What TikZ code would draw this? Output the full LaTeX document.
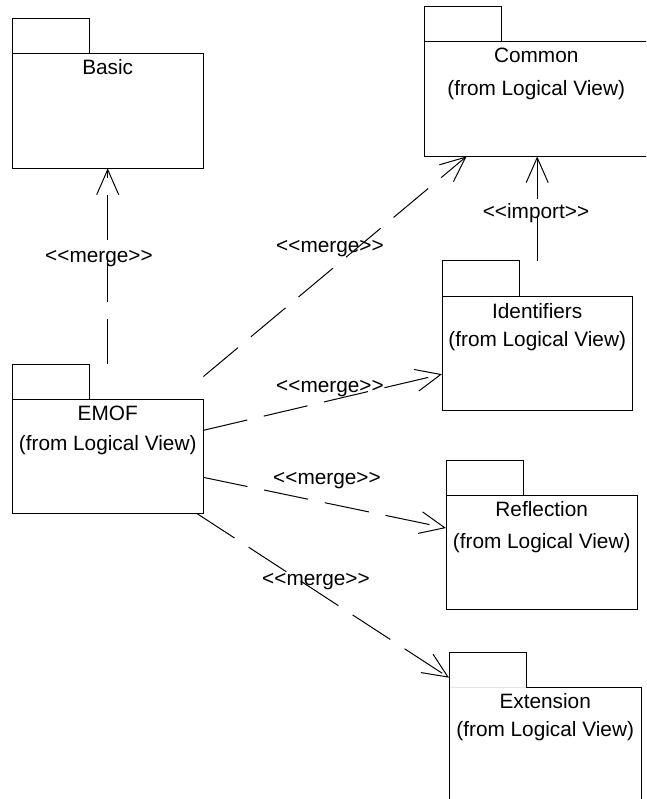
\documentclass[tikz,border=0pt]{standalone}
\usepackage{fontspec}
\usepackage{tikz}
\usetikzlibrary{arrows.meta}
\newfontfamily\rosefont{Liberation Sans}
\newcommand{\stereo}[1]{<\kern0pt<#1>\kern0pt>}

\begin{document}
\begin{tikzpicture}[x=1pt,y=-1pt,
  pkg/.style={draw=none,inner sep=0pt,minimum width=191pt,minimum height=149pt,anchor=north west},
  pkgline/.style={draw=black,line width=1pt},
  pkgtext/.style={font=\rosefont\fontsize{20.8}{24}\selectfont,inner sep=0pt,text height=14pt,text depth=4pt},
  dep/.style={draw=black,line width=1pt,dash pattern=on 45pt off 17pt,-{Straight Barb[length=25pt,width=22pt]}}]
\def\tabw{77}
\def\tabh{35}

\useasboundingbox (0,0) rectangle (646,799);
\clip (0,0) rectangle (646,799);

% packages (bounding box of tab + body)
\node[pkg] (basic) at (12,19) {};
\node[pkg,minimum width=224pt] (common) at (424,7) {};
\node[pkg,minimum width=190pt] (identifiers) at (442,261) {};
\node[pkg] (emof) at (12,364) {};
\node[pkg] (reflection) at (446,460) {};
\node[pkg,minimum width=192pt] (extension) at (449,652) {};

\foreach \p in {basic,common,identifiers,emof,reflection,extension}{
  \draw[pkgline] (\p.north west) rectangle ++(\tabw,\tabh);
  \draw[pkgline] (\p.north west) ++(0,\tabh) rectangle (\p.south east);
}
\draw[gray!20,line width=1pt] (extension.north west) ++(1,\tabh) -- ++(\tabw-1,0); %faint line under tab%

% package texts
\node[pkgtext] (basicname) at ([yshift=-51pt]basic.north) {Basic};
\node[pkgtext] (commonname) at ([yshift=-51pt]common.north) {Common};
\node[pkgtext] (commonview) at ([yshift=-84pt]common.north) {(from Logical View)};
\node[pkgtext] (identifiersname) at ([yshift=-52pt]identifiers.north) {Identifiers};
\node[pkgtext] (identifiersview) at ([yshift=-80pt]identifiers.north) {(from Logical View)};
\node[pkgtext] (emofname) at ([yshift=-51pt]emof.north) {EMOF};
\node[pkgtext] (emofview) at ([yshift=-81pt]emof.north) {(from Logical View)};
\node[pkgtext] (reflectionname) at ([yshift=-51pt]reflection.north) {Reflection};
\node[pkgtext] (reflectionview) at ([yshift=-83pt]reflection.north) {(from Logical View)};
\node[pkgtext] (extensionname) at ([yshift=-51pt]extension.north) {Extension};
\node[pkgtext] (extensionview) at ([yshift=-79pt]extension.north) {(from Logical View)};

% dependencies
\draw[dep] (emof.north) -- (basic.south);
\draw[dep] (emof.33.6) -- (common.227.2);
\draw[dep] (emof.5.1) -- (identifiers.202.6);
\draw[dep] (emof.-22) -- (reflection.176.7);
\draw[dep] (emof.-40.1) -- (extension.153.7);
\draw[dep] (identifiers.north) -- (identifiers.north |- common.south);

% stereotypes
\node[pkgtext] (mergebasic) at (99,257) {\stereo{merge}};
\node[pkgtext] (mergecommon) at (330,248) {\stereo{merge}};
\node[pkgtext] (mergeidentifiers) at (330,387) {\stereo{merge}};
\node[pkgtext] (mergereflection) at (327,479) {\stereo{merge}};
\node[pkgtext] (mergeextension) at (316,580) {\stereo{merge}};
\node[pkgtext] (importcommon) at (536,214) {\stereo{import}};
\end{tikzpicture}
\end{document}
